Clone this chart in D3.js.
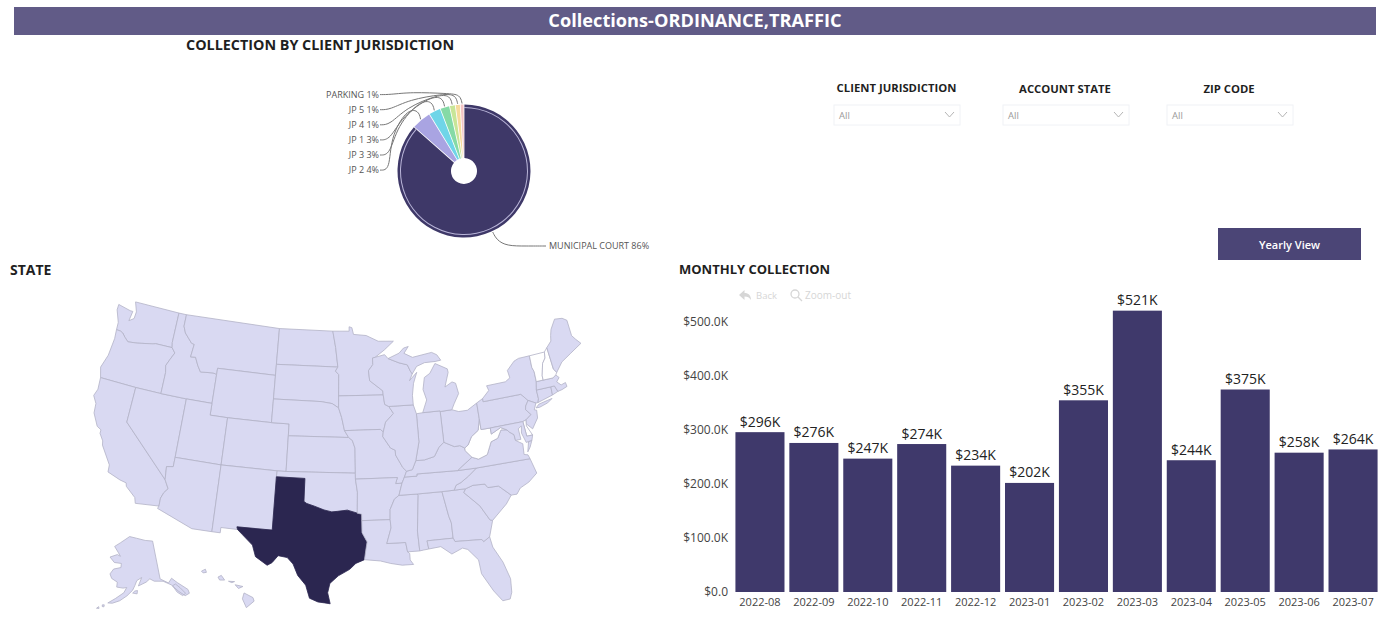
<!DOCTYPE html>
<html><head><meta charset="utf-8">
<script src="https://cdn.jsdelivr.net/npm/d3@7"></script>
<style>html,body{margin:0;padding:0;background:#fff}svg{display:block}text{font-family:"Open Sans","Noto Sans",sans-serif}</style>
</head><body><div id="chart"></div>
<script>
// ---- monthly bars
const months=["2022-08","2022-09","2022-10","2022-11","2022-12","2023-01","2023-02","2023-03","2023-04","2023-05","2023-06","2023-07"];
const monthlyValues=[296,276,247,274,234,202,355,521,244,375,258,264];
const monthTicks=[0,100,200,300,400,500];
// ---- donut
const jurisdictions=["MUNICIPAL COURT","JP 2","JP 3","JP 1","JP 4","JP 5","PARKING"];
const jurisdictionShare=[86.4,4.8,2.9,2.3,1.4,1.2,0.9];
const jurisdictionLabels=["86%","4%","3%","3%","1%","1%","1%"];
const jurisdictionColors=["#3e3868","#a9a4e2","#6fd5e8","#85daa6","#c8e597","#f6da9c","#f3c4c4"];
// ---- filters
const filterNames=["CLIENT JURISDICTION","ACCOUNT STATE","ZIP CODE"];
// ---- map: state outlines, [lon,lat]
const highlightedStates=["TX"];
const noDataStates=["WV","VT","NH","DE"];
const stateOutlines={
WA:[[[-124.7,48.38],[-123.1,48.15],[-122.75,48.15],[-122.9,47.3],[-122.35,47.6],[-122.3,48.2],[-122.75,49],[-117.03,49],[-117.04,46.42],[-116.92,45.995],[-118.98,46],[-119.3,45.93],[-121.2,45.65],[-122.3,45.55],[-122.8,45.85],[-123.2,46.15],[-123.55,46.25],[-124.05,46.27],[-124.1,46.9],[-124.7,47.9]]],
OR:[[[-124.05,46.27],[-123.55,46.25],[-123.2,46.15],[-122.8,45.85],[-122.3,45.55],[-121.2,45.65],[-119.3,45.93],[-118.98,46],[-116.92,45.995],[-116.46,45.6],[-116.85,45],[-117.2,44.4],[-117.03,43.8],[-117.03,42],[-120,42],[-124.2,42],[-124.55,42.85],[-124.1,44],[-123.95,45.5]]],
CA:[[[-124.2,42],[-120,42],[-120,39],[-114.63,35],[-114.14,34.3],[-114.5,33.9],[-114.72,33.4],[-114.72,32.72],[-117.12,32.53],[-117.3,33],[-118.4,33.75],[-118.5,34.03],[-119.2,34.15],[-120.6,34.55],[-120.65,35.15],[-121.9,36.6],[-122,36.95],[-122.5,37.5],[-122.5,37.8],[-123,38],[-123.75,39],[-123.85,39.8],[-124.35,40.4],[-124.1,41]]],
NV:[[[-120,42],[-117.03,42],[-114.04,42],[-114.04,37],[-114.05,36.2],[-114.75,36.1],[-114.63,35],[-120,39]]],
ID:[[[-117.03,49],[-116.05,49],[-116.05,48],[-115.7,47.45],[-114.7,46.7],[-114.35,46.65],[-114.5,45.55],[-113.9,45.6],[-113.45,44.95],[-113,44.45],[-111.5,44.55],[-111.05,44.48],[-111.05,42],[-114.04,42],[-117.03,42],[-117.03,43.8],[-117.2,44.4],[-116.85,45],[-116.46,45.6],[-116.92,45.995],[-117.04,46.42]]],
MT:[[[-116.05,49],[-104.05,49],[-104.05,45.94],[-104.05,45],[-111.05,45],[-111.05,44.48],[-111.5,44.55],[-113,44.45],[-113.45,44.95],[-113.9,45.6],[-114.5,45.55],[-114.35,46.65],[-114.7,46.7],[-115.7,47.45],[-116.05,48]]],
WY:[[[-111.05,45],[-104.05,45],[-104.05,43],[-104.05,41],[-109.05,41],[-111.05,41],[-111.05,42],[-111.05,44.48]]],
UT:[[[-114.04,42],[-111.05,42],[-111.05,41],[-109.05,41],[-109.05,37],[-114.04,37]]],
CO:[[[-109.05,41],[-104.05,41],[-102.05,41],[-102.05,40],[-102.05,37],[-103,37],[-109.05,37]]],
AZ:[[[-114.04,37],[-109.05,37],[-109.05,31.33],[-111.07,31.33],[-114.81,32.5],[-114.72,32.72],[-114.72,33.4],[-114.5,33.9],[-114.14,34.3],[-114.63,35],[-114.75,36.1],[-114.05,36.2]]],
NM:[[[-109.05,37],[-103,37],[-103.04,36.5],[-103.06,32],[-106.62,32],[-106.53,31.78],[-108.21,31.78],[-108.21,31.33],[-109.05,31.33]]],
ND:[[[-104.05,49],[-97.23,49],[-96.85,47.6],[-96.56,45.94],[-104.05,45.94]]],
SD:[[[-104.05,45.94],[-96.56,45.94],[-96.85,45.6],[-96.45,45.3],[-96.45,43.5],[-96.45,42.49],[-97.2,42.85],[-98.5,43],[-104.05,43]]],
NE:[[[-104.05,43],[-98.5,43],[-97.2,42.85],[-96.45,42.49],[-96.1,41.7],[-95.77,40.58],[-95.31,40],[-102.05,40],[-102.05,41],[-104.05,41]]],
KS:[[[-102.05,40],[-95.31,40],[-94.9,39.75],[-94.62,39.1],[-94.62,37],[-102.05,37]]],
OK:[[[-103,37],[-102.05,37],[-94.62,37],[-94.62,36.5],[-94.43,35.4],[-94.48,33.64],[-95.5,33.9],[-96.5,33.8],[-97.1,33.75],[-97.9,33.9],[-98.9,34.2],[-99.7,34.4],[-100,34.56],[-100,36.5],[-103.04,36.5]]],
TX:[[[-106.62,32],[-103.06,32],[-103.04,36.5],[-100,36.5],[-100,34.56],[-99.7,34.4],[-98.9,34.2],[-97.9,33.9],[-97.1,33.75],[-96.5,33.8],[-95.5,33.9],[-94.48,33.64],[-94.04,33.55],[-94.04,33],[-94.04,31.99],[-93.55,31.2],[-93.7,30.5],[-93.85,29.7],[-94.7,29.4],[-95.3,28.9],[-96.4,28.35],[-97.2,27.7],[-97.4,26.9],[-97.15,25.96],[-97.65,26.03],[-98.3,26.1],[-99.1,26.4],[-99.5,27.5],[-100.3,28.3],[-100.8,29.25],[-101.4,29.77],[-102.3,29.88],[-102.85,29.25],[-103.3,29],[-104.5,29.65],[-104.9,30.6],[-106,31.4],[-106.53,31.78]]],
MN:[[[-97.23,49],[-95.15,49],[-95.15,49.38],[-94.8,49.3],[-94.6,48.72],[-93,48.6],[-91.5,48.07],[-89.6,48],[-90.8,47.3],[-92,46.7],[-92.3,46.66],[-92.3,46.1],[-92.85,45.6],[-92.75,44.75],[-91.25,43.85],[-91.22,43.5],[-96.45,43.5],[-96.45,45.3],[-96.85,45.6],[-96.56,45.94],[-96.85,47.6]]],
IA:[[[-96.45,43.5],[-91.22,43.5],[-91.1,42.7],[-90.64,42.5],[-90.15,41.9],[-91.1,41.2],[-91.42,40.38],[-91.73,40.61],[-95.77,40.58],[-96.1,41.7],[-96.45,42.49]]],
MO:[[[-95.77,40.58],[-91.73,40.61],[-91.42,40.38],[-91.5,40],[-90.7,39],[-90.2,38.8],[-90.2,38.4],[-89.5,37.3],[-89.13,36.98],[-89.4,36.5],[-89.7,36],[-90.38,36],[-90.15,36.5],[-94.62,36.5],[-94.62,37],[-94.62,39.1],[-94.9,39.75],[-95.31,40]]],
AR:[[[-94.62,36.5],[-90.15,36.5],[-90.38,36],[-89.7,36],[-90.1,35],[-90.6,34.7],[-91.1,33.85],[-91.15,33],[-94.04,33],[-94.04,33.55],[-94.48,33.64],[-94.43,35.4]]],
LA:[[[-94.04,33],[-91.15,33],[-91.1,32.3],[-91.6,31],[-89.73,31],[-89.6,30.2],[-89.4,30.05],[-89.4,29.5],[-89.1,29.1],[-90.2,29.1],[-91.3,29.3],[-92.3,29.55],[-93.85,29.7],[-93.7,30.5],[-93.55,31.2],[-94.04,31.99]]],
MS:[[[-90.1,35],[-88.2,35],[-88.1,34.9],[-88.47,31.9],[-88.4,30.2],[-89.6,30.2],[-89.73,31],[-91.6,31],[-91.1,32.3],[-91.15,33],[-91.1,33.85],[-90.6,34.7]]],
AL:[[[-88.2,35],[-85.6,35],[-85.18,32.87],[-85,32.3],[-85,31],[-87.6,31],[-87.5,30.3],[-88,30.25],[-88.4,30.2],[-88.47,31.9],[-88.1,34.9]]],
GA:[[[-85.6,35],[-84.32,35],[-83.1,35],[-83.35,34.7],[-81.9,33.4],[-81.1,32.1],[-80.85,32.03],[-81.4,30.7],[-82.05,30.36],[-82.2,30.57],[-84.86,30.7],[-85,31],[-85,32.3],[-85.18,32.87]]],
FL:[[[-87.6,31],[-85,31],[-84.86,30.7],[-82.2,30.57],[-82.05,30.36],[-81.4,30.7],[-81.25,29.8],[-80.5,28.4],[-80.05,26.9],[-80.15,25.75],[-80.4,25.2],[-81.1,25.15],[-81.8,26.1],[-82.7,27.7],[-82.8,28.9],[-83.7,29.9],[-84.2,30.07],[-85.3,29.68],[-86.3,30.4],[-87.5,30.3]]],
SC:[[[-83.35,34.7],[-83.1,35],[-82.3,35.2],[-81.05,35.15],[-80.8,34.82],[-79.68,34.8],[-78.55,33.86],[-79.2,33.2],[-80.85,32.03],[-81.1,32.1],[-81.9,33.4]]],
NC:[[[-84.32,35],[-84.05,35.4],[-83.5,35.57],[-82.6,36.03],[-81.68,36.59],[-75.87,36.55],[-75.5,35.25],[-76.5,34.65],[-77.5,34.3],[-77.95,33.85],[-78.55,33.86],[-79.68,34.8],[-80.8,34.82],[-81.05,35.15],[-82.3,35.2],[-83.1,35]]],
TN:[[[-90.1,35],[-88.2,35],[-85.6,35],[-84.32,35],[-84.05,35.4],[-83.5,35.57],[-82.6,36.03],[-81.68,36.59],[-83.68,36.6],[-88.05,36.68],[-88.07,36.5],[-89.4,36.5],[-89.7,36]]],
KY:[[[-89.4,36.5],[-88.07,36.5],[-88.05,36.68],[-83.68,36.6],[-81.97,37.54],[-82.6,38.17],[-82.6,38.4],[-83.1,38.65],[-83.7,38.63],[-84.8,39.1],[-85.4,38.73],[-86,38],[-87.1,37.8],[-88.05,37.8],[-88.5,37.07],[-89.13,36.98]]],
VA:[[[-83.68,36.6],[-81.68,36.59],[-75.87,36.55],[-76,36.9],[-76.4,37],[-76.3,37.9],[-77,38.3],[-77.04,38.8],[-77.5,39.1],[-77.72,39.32],[-78.35,39.4],[-78.87,38.76],[-79.65,38.57],[-80.3,37.55],[-81.3,37.3],[-81.97,37.54]],[[-75.95,37.15],[-75.65,37.95],[-75.25,38.03],[-75.6,37.5]]],
WV:[[[-81.97,37.54],[-81.3,37.3],[-80.3,37.55],[-79.65,38.57],[-78.87,38.76],[-78.35,39.4],[-77.72,39.32],[-78.35,39.6],[-79.48,39.2],[-79.48,39.72],[-80.52,39.72],[-80.52,40.64],[-80.85,39.7],[-81.7,39.25],[-82.2,38.6],[-82.6,38.4],[-82.6,38.17]]],
OH:[[[-84.8,41.7],[-83.45,41.73],[-82.7,41.5],[-81.7,41.5],[-80.52,41.98],[-80.52,40.64],[-80.85,39.7],[-81.7,39.25],[-82.2,38.6],[-82.6,38.4],[-83.1,38.65],[-83.7,38.63],[-84.8,39.1]]],
IN:[[[-87.53,41.72],[-86.8,41.76],[-84.8,41.76],[-84.8,41.7],[-84.8,39.1],[-85.4,38.73],[-86,38],[-87.1,37.8],[-88.05,37.8],[-87.53,39.35]]],
IL:[[[-87.8,42.49],[-90.64,42.5],[-90.15,41.9],[-91.1,41.2],[-91.42,40.38],[-91.5,40],[-90.7,39],[-90.2,38.8],[-90.2,38.4],[-89.5,37.3],[-89.13,36.98],[-88.5,37.07],[-88.05,37.8],[-87.53,39.35],[-87.53,41.72]]],
WI:[[[-92.3,46.66],[-90.8,46.9],[-90.4,46.55],[-89.1,46.13],[-88.1,45.9],[-87.8,45.35],[-87.6,45.1],[-88,44.55],[-87.05,45.2],[-87.55,44.3],[-87.8,43.3],[-87.8,42.49],[-90.64,42.5],[-91.1,42.7],[-91.22,43.5],[-91.25,43.85],[-92.75,44.75],[-92.85,45.6],[-92.3,46.1]]],
MI:[[[-86.8,41.76],[-84.8,41.76],[-84.8,41.7],[-83.45,41.73],[-83.1,42.2],[-82.42,43],[-82.6,43.9],[-83,44.05],[-83.9,43.7],[-83.3,44.9],[-83.35,45.2],[-84.75,45.78],[-85.5,45],[-86.2,44.7],[-86.5,43.7],[-86.2,42.8]],[[-90.4,46.55],[-89,46.95],[-88.4,47.35],[-87.8,47.45],[-88.4,46.9],[-87.4,46.5],[-85,46.75],[-84.4,46.5],[-84,46],[-84.7,45.95],[-86,45.95],[-87,45.7],[-87.6,45.1],[-87.8,45.35],[-88.1,45.9],[-89.1,46.13]]],
PA:[[[-80.52,41.98],[-79.76,42.27],[-79.76,42],[-75.35,42],[-74.7,41.36],[-75.1,40.95],[-75.2,40.65],[-74.72,40.15],[-75.42,39.8],[-75.79,39.72],[-79.48,39.72],[-80.52,39.72],[-80.52,40.64]]],
NY:[[[-79.76,42.27],[-78.9,42.85],[-79.05,43.27],[-76.8,43.3],[-76.2,43.55],[-76.3,44.2],[-75.3,44.85],[-74.7,45],[-73.35,45],[-73.4,44],[-73.25,43.6],[-73.28,42.75],[-73.5,42.05],[-73.5,41.3],[-73.65,41],[-73.9,41],[-74.7,41.36],[-75.35,42],[-79.76,42]],[[-74,40.6],[-73.6,40.85],[-72.6,40.98],[-72,41.05],[-72.6,40.78],[-73.6,40.58]]],
NJ:[[[-74.7,41.36],[-73.9,41],[-74.25,40.48],[-74,40.4],[-74.1,39.75],[-74.9,38.95],[-75.5,39.5],[-75.42,39.8],[-74.72,40.15],[-75.2,40.65],[-75.1,40.95]]],
DE:[[[-75.79,39.72],[-75.42,39.8],[-75.5,39.3],[-75.05,38.45],[-75.7,38.45]]],
MD:[[[-79.48,39.72],[-75.79,39.72],[-75.7,38.45],[-75.05,38.45],[-75.25,38.03],[-75.9,37.95],[-76.2,38.8],[-76.05,39.4],[-76.45,39.2],[-76.4,38.3],[-77,38.3],[-77.04,38.8],[-77.5,39.1],[-77.72,39.32],[-78.35,39.6],[-79.48,39.2]]],
CT:[[[-73.5,42.05],[-71.8,42.02],[-71.85,41.32],[-73.65,41],[-73.5,41.3]]],
RI:[[[-71.8,42.02],[-71.38,42.02],[-71.15,41.5],[-71.85,41.32]]],
MA:[[[-73.5,42.05],[-73.28,42.75],[-72.46,42.73],[-71.3,42.7],[-70.9,42.88],[-70.6,42.6],[-71,42.3],[-70.6,41.95],[-70.05,42.05],[-70,41.7],[-70.65,41.55],[-71.15,41.5],[-71.38,42.02],[-71.8,42.02]]],
VT:[[[-73.35,45],[-71.5,45],[-71.6,44.5],[-72.05,44.1],[-72.45,43.1],[-72.46,42.73],[-73.28,42.75],[-73.25,43.6],[-73.4,44]]],
NH:[[[-71.5,45],[-71.08,45.3],[-70.98,43.4],[-70.7,43.07],[-70.9,42.88],[-71.3,42.7],[-72.46,42.73],[-72.45,43.1],[-72.05,44.1],[-71.6,44.5]]],
ME:[[[-71.08,45.3],[-70.4,45.75],[-70.25,46.2],[-70,46.7],[-69.23,47.46],[-68.3,47.35],[-67.8,47.07],[-67.8,45.7],[-67.45,45.3],[-67,44.85],[-68.5,44.3],[-69.8,43.8],[-70.7,43.07],[-70.98,43.4]]],
AK:[[[-141,69.65],[-141,60.3],[-137.5,58.9],[-135.5,59.8],[-133.5,58.4],[-130,56],[-130,55],[-132,54.8],[-134,56.2],[-135.5,57.5],[-136.5,58.3],[-139.8,59.6],[-144,60],[-146,60.7],[-148,60],[-151.8,59.2],[-150,61.2],[-152.5,60.5],[-153.5,59.3],[-154.5,58.2],[-157,56.8],[-160,55.5],[-163,54.7],[-164.9,54.6],[-162,55.9],[-158.5,57.5],[-157.3,58.8],[-159,58.6],[-162,58.7],[-162,59.9],[-165,60.6],[-166.2,61.6],[-164.8,62.9],[-161,63.5],[-161,64.5],[-165,64.5],[-168,65.6],[-164,66.5],[-162,66.2],[-163.7,67.1],[-166.5,68.35],[-163,69.5],[-157,71.2],[-152,70.8],[-146,70.1]],[[-154.5,57.5],[-152.5,57.3],[-152.3,58.1],[-153.5,58]],[[-166.9,53.5],[-166.2,53.5],[-166.2,54],[-167,53.9]],[[-169,52.8],[-168,52.9],[-168.3,53.3]],[[-136,58],[-134.8,56.2],[-133,55],[-131.5,55.3],[-133,57],[-134.5,58.2]]],
HI:[[[-155.9,20.2],[-155.1,19.8],[-155,19.5],[-155.7,18.95],[-156.05,19.7]],[[-156.7,20.9],[-156,20.75],[-156.4,20.58]],[[-158.25,21.55],[-157.95,21.7],[-157.65,21.3],[-158.1,21.3]],[[-159.75,22.05],[-159.4,22.22],[-159.3,21.95],[-159.6,21.9]],[[-157.3,21.2],[-156.75,21.17],[-157,21.08]]]
};

const W=1384,H=619;
const svg=d3.select("#chart").append("svg").attr("width",W).attr("height",H).attr("viewBox",[0,0,W,H]);
const ink="#1f1f1f", muted="#555";

// banner
svg.append("rect").attr("x",14).attr("y",7).attr("width",1362).attr("height",28).attr("fill","#615b87");
svg.append("text").attr("x",695).attr("y",27).attr("text-anchor","middle").attr("fill","#fff").attr("font-size",18.2).attr("font-weight",700).text("Collections-ORDINANCE,TRAFFIC");

const heading=(x,y,t,s)=>svg.append("text").attr("x",x).attr("y",y).attr("fill",ink).attr("font-size",s).attr("font-weight",700).text(t);
heading(186,50,"COLLECTION BY CLIENT JURISDICTION",14.35);
heading(10,275,"STATE",14);
heading(679,274,"MONTHLY COLLECTION",13);

// donut
const pieCx=464,pieCy=171,pieR=66.5;
const pieG=svg.append("g").attr("transform",`translate(${pieCx},${pieCy})`);
const pieData=d3.pie().sort(null)(jurisdictionShare);
const arc=d3.arc().innerRadius(13).outerRadius(pieR).padAngle(0.012);
pieG.selectAll("path.slice").data(pieData).join("path").attr("class","slice").attr("d",arc).attr("fill",(d,i)=>jurisdictionColors[i]);
// thin light ring just inside the large slice
pieG.append("path").attr("d",d3.arc().innerRadius(63).outerRadius(64)(pieData[0])).attr("fill","#b9b5d8");
// leader lines and labels
const labelSpot=i=>i===0?[82,75]:[-84,-76+(6-i)*15.1-0.4];
const leader=d3.line().curve(d3.curveBasis);
pieData.forEach((d,i)=>{
  const mid=i===0?(Math.PI*0.86):(d.startAngle+d.endAngle)/2;
  const ex=Math.sin(mid)*(pieR+1),ey=-Math.cos(mid)*(pieR+1);
  const [lx,ly]=labelSpot(i);
  const pts=i===0?[[ex,ey],[ex+4,ey+8],[ex+14,ly],[lx-20,ly],[lx,ly]]
    :[[ex,ey],[ex-2,ey-9],[ex-14,ey-10],[(ex+lx)/2-10,(ey-10+ly)/2-2],[lx+10,ly],[lx,ly]];
  pieG.append("path").attr("d",leader(pts)).attr("fill","none").attr("stroke","#777").attr("stroke-width",1);
  pieG.append("text").attr("x",i===0?lx+3:lx-1).attr("y",ly+3).attr("font-size",9).attr("fill",muted).attr("text-anchor",i===0?"start":"end").text(jurisdictions[i]+" "+jurisdictionLabels[i]);
});

// filters
const filterX=[896.5,1065,1229], boxX=[834,1003,1167];
filterNames.forEach((n,i)=>{
  svg.append("text").attr("x",filterX[i]).attr("y",i===0?92:93).attr("text-anchor","middle").attr("font-size",11.3).attr("font-weight",700).attr("fill",ink).text(n);
  svg.append("rect").attr("x",boxX[i]).attr("y",105).attr("width",126).attr("height",20).attr("fill","#fff").attr("stroke","#f0f2f6");
  svg.append("text").attr("x",boxX[i]+5).attr("y",119).attr("font-size",9.5).attr("fill","#9a9a9a").text("All");
  svg.append("path").attr("d",d3.line()([[boxX[i]+111,112],[boxX[i]+115.5,117],[boxX[i]+120,112]])).attr("fill","none").attr("stroke","#b5b5b5");
});

// button
svg.append("rect").attr("x",1218).attr("y",228).attr("width",143).attr("height",32).attr("fill","#4b4576");
svg.append("text").attr("x",1289.5).attr("y",249).attr("text-anchor","middle").attr("fill","#fff").attr("font-size",11).attr("font-weight",600).text("Yearly View");

// map
const rewind=ring=>{const g={type:"Polygon",coordinates:[ring]};return d3.geoArea(g)>2*Math.PI?ring.slice().reverse():ring;};
const features=Object.entries(stateOutlines).map(([id,rings])=>({type:"Feature",id,geometry:{type:"MultiPolygon",coordinates:rings.map(r=>[rewind(r.concat([r[0]]))])}}));
const projection=d3.geoAlbersUsa().scale(676).translate([337,453]);
const geoPath=d3.geoPath(projection);
svg.append("g").selectAll("path").data(features).join("path")
  .attr("d",geoPath)
  .attr("fill",d=>highlightedStates.includes(d.id)?"#2b2650":noDataStates.includes(d.id)?"#fff":"#d9d9f2")
  .attr("stroke",d=>highlightedStates.includes(d.id)?"#2b2650":"#b2b2c6")
  .attr("stroke-width",0.8).attr("stroke-linejoin","round");

// back / zoom-out hints
const hint=svg.append("g").attr("fill","#d6d6d6").attr("font-size",9.5);
hint.append("path").attr("d","M739 295l5.5-5v3c4 0 6.5 2.5 6.5 7-1.5-2.5-3.5-3.5-6.5-3.5v3.5z");
hint.append("text").attr("x",756).attr("y",299).text("Back");
hint.append("circle").attr("cx",795).attr("cy",294).attr("r",4).attr("fill","none").attr("stroke","#d6d6d6").attr("stroke-width",1.3);
hint.append("path").attr("d","M798 297l4 4").attr("stroke","#d6d6d6").attr("stroke-width",1.3);
hint.append("text").attr("x",805).attr("y",299).attr("font-size",10).text("Zoom-out");

// bars
const x=d3.scaleBand().domain(months).range([733,1380]).paddingInner(0.09).paddingOuter(0.045);
const y=d3.scaleLinear().domain([0,500]).range([592,322]);
svg.append("g").selectAll("rect").data(monthlyValues).join("rect")
  .attr("x",(d,i)=>x(months[i])).attr("width",x.bandwidth())
  .attr("y",d=>y(d)).attr("height",d=>y(0)-y(d)).attr("fill","#3f396b");
svg.append("g").selectAll("text").data(monthlyValues).join("text")
  .attr("x",(d,i)=>x(months[i])+x.bandwidth()/2).attr("y",d=>y(d)-5.5)
  .attr("text-anchor","middle").attr("font-size",14).attr("fill","#222").text(d=>"$"+d+"K");
const yAxis=svg.append("g").attr("transform","translate(728,0)")
  .call(d3.axisLeft(y).tickValues(monthTicks).tickSize(0).tickPadding(0).tickFormat(d=>d===0?"$0.0":"$"+d+".0K"));
yAxis.select(".domain").remove();
yAxis.selectAll("text").attr("font-size",12).attr("fill","#444").style("font-family",'"Open Sans","Noto Sans",sans-serif');
const xAxis=svg.append("g").attr("transform","translate(0,592)")
  .call(d3.axisBottom(x).tickSize(0).tickPadding(6));
xAxis.select(".domain").remove();
xAxis.selectAll("text").attr("font-size",11).attr("fill","#444").style("font-family",'"Open Sans","Noto Sans",sans-serif');
</script></body></html>
